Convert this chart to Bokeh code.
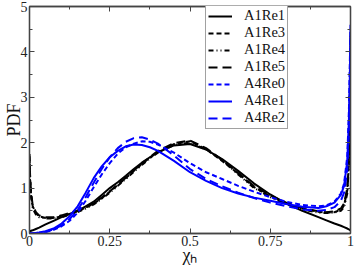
from bokeh.plotting import figure
from bokeh.models import LinearAxis, Legend, LegendItem, FixedTicker, Range1d
from bokeh.embed import file_html
from bokeh.resources import INLINE

# ---- data ----
chi = [0, 0.002, 0.005, 0.01, 0.02, 0.03, 0.05, 0.075, 0.1, 0.125, 0.15, 0.175, 0.2,
       0.225, 0.25, 0.275, 0.3, 0.325, 0.35, 0.375, 0.4, 0.45, 0.5, 0.55, 0.6, 0.65,
       0.7, 0.75, 0.8, 0.85, 0.9, 0.925, 0.95, 0.97, 0.98, 0.99, 0.995, 0.998, 1.0]

a1re1 = [0.05, 0.05, 0.06, 0.07, 0.1, 0.13, 0.2, 0.28, 0.36, 0.43, 0.5, 0.6, 0.7,
         0.85, 1.0, 1.13, 1.27, 1.42, 1.56, 1.68, 1.79, 1.94, 1.97, 1.85, 1.64, 1.38,
         1.1, 0.86, 0.66, 0.5, 0.36, 0.29, 0.22, 0.17, 0.14, 0.11, 0.09, 0.08, 0.07]
a1re3 = [1.7, 1.2, 0.85, 0.6, 0.45, 0.38, 0.34, 0.34, 0.38, 0.43, 0.49, 0.57, 0.66,
         0.78, 0.92, 1.07, 1.22, 1.38, 1.53, 1.67, 1.8, 1.97, 2.03, 1.86, 1.6, 1.32,
         1.02, 0.82, 0.66, 0.55, 0.48, 0.46, 0.47, 0.52, 0.62, 0.95, 1.6, 2.8, 4.2]
a1re4 = [1.55, 1.1, 0.8, 0.55, 0.42, 0.36, 0.33, 0.33, 0.36, 0.41, 0.47, 0.55, 0.64,
         0.76, 0.9, 1.05, 1.2, 1.36, 1.51, 1.65, 1.78, 1.95, 2.0, 1.85, 1.62, 1.3,
         1.0, 0.8, 0.64, 0.53, 0.46, 0.45, 0.46, 0.5, 0.58, 0.88, 1.5, 2.6, 4.0]
a1re5 = [1.75, 1.25, 0.9, 0.62, 0.47, 0.4, 0.36, 0.36, 0.4, 0.45, 0.51, 0.58, 0.67,
         0.79, 0.93, 1.08, 1.23, 1.39, 1.54, 1.68, 1.82, 1.99, 2.05, 1.88, 1.62, 1.33,
         1.04, 0.84, 0.68, 0.56, 0.49, 0.47, 0.49, 0.55, 0.66, 1.0, 1.7, 3.0, 4.4]
a4re0 = [0.0, 0.0, 0.0, 0.0, 0.01, 0.015, 0.03, 0.08, 0.16, 0.28, 0.46, 0.72, 1.02,
         1.3, 1.55, 1.76, 1.9, 1.98, 2.03, 2.02, 1.96, 1.78, 1.55, 1.35, 1.2, 1.05,
         0.92, 0.8, 0.7, 0.63, 0.6, 0.62, 0.7, 0.88, 1.1, 1.7, 2.7, 3.8, 4.6]
a4re1 = [0.0, 0.0, 0.0, 0.0, 0.01, 0.02, 0.05, 0.11, 0.22, 0.38, 0.6, 0.9, 1.22,
         1.48, 1.68, 1.82, 1.92, 1.96, 1.95, 1.9, 1.82, 1.6, 1.35, 1.16, 1.0, 0.88,
         0.79, 0.72, 0.65, 0.59, 0.56, 0.6, 0.68, 0.85, 1.05, 1.6, 2.5, 3.5, 4.5]
a4re2 = [0.0, 0.0, 0.0, 0.0, 0.01, 0.02, 0.04, 0.09, 0.18, 0.32, 0.52, 0.8, 1.12,
         1.42, 1.68, 1.88, 2.02, 2.1, 2.12, 2.07, 1.98, 1.72, 1.42, 1.2, 1.04, 0.9,
         0.78, 0.68, 0.6, 0.53, 0.5, 0.52, 0.58, 0.72, 0.9, 1.4, 2.2, 3.2, 4.3]

series_names = ["A1Re1", "A1Re3", "A1Re4", "A1Re5", "A4Re0", "A4Re1", "A4Re2"]
series_vals = [a1re1, a1re3, a1re4, a1re5, a4re0, a4re1, a4re2]
series_color = ["black", "black", "black", "black", "#0000ff", "#0000ff", "#0000ff"]
series_dash = ["solid", "5 3", "5 3 1 3 1 3", "9 5", "5 3", "solid", "9 5"]

x_ticks = [0, 0.25, 0.5, 0.75, 1]
x_minor = [0.125, 0.375, 0.625, 0.875]
x_tick_labels = {0: "0", 0.25: "0.25", 0.5: "0.5", 0.75: "0.75", 1: "1"}
y_ticks = [0, 1, 2, 3, 4, 5]
y_minor = [0.5, 1.5, 2.5, 3.5, 4.5]

SERIF = "Liberation Serif"
AX = "#444444"

p = figure(width=354, height=267, min_border_left=26, min_border_right=4,
           min_border_top=6, min_border_bottom=34,
           x_range=Range1d(0, 1), y_range=Range1d(0, 5),
           output_backend="svg", toolbar_location=None)
p.xgrid.visible = False
p.ygrid.visible = False
p.outline_line_color = AX
p.outline_line_width = 1.3
p.background_fill_color = "white"
p.border_fill_color = "white"

xb = p.below[0]
yl = p.left[0]
top = LinearAxis()
right = LinearAxis()
p.add_layout(top, "above")
p.add_layout(right, "right")

for ax, ticks, minor, lab in [(xb, x_ticks, x_minor, True), (yl, y_ticks, y_minor, True),
                              (top, x_ticks, x_minor, False), (right, y_ticks, y_minor, False)]:
    ax.ticker = FixedTicker(ticks=ticks, minor_ticks=minor)
    ax.axis_line_color = AX
    ax.axis_line_width = 1.3
    ax.major_tick_line_color = AX
    ax.minor_tick_line_color = AX
    ax.major_tick_in = 5
    ax.major_tick_out = 0
    ax.minor_tick_in = 3
    ax.minor_tick_out = 0
    if lab:
        ax.major_label_text_font = SERIF
        ax.major_label_text_font_size = "14px"
        ax.major_label_text_color = "#222222"
        ax.major_label_standoff = 2
    else:
        ax.major_label_text_font_size = "0px"
        ax.major_label_standoff = 0
        ax.major_label_text_color = None

xb.major_label_overrides = x_tick_labels

xb.axis_label = "χₕ"
yl.axis_label = "PDF"
for ax in (xb, yl):
    ax.axis_label_text_font = SERIF
    ax.axis_label_text_font_size = "18px"
    ax.axis_label_text_font_style = "normal"
    ax.axis_label_text_color = "#111111"
    ax.axis_label_text_line_height = 0.8
xb.axis_label_standoff = -4
yl.axis_label_standoff = -6

items = []
for name, vals, col, dash in zip(series_names, series_vals, series_color, series_dash):
    r = p.line(chi, vals, line_color=col, line_width=2, line_dash=dash)
    items.append(LegendItem(label=name, renderers=[r]))

legend = Legend(items=items, location=(176, 104))
legend.label_text_font = SERIF
legend.label_text_font_size = "14.5px"
legend.label_text_line_height = 1.0
legend.label_text_color = "#111111"
legend.label_height = 14
legend.glyph_height = 14
legend.glyph_width = 24
legend.label_standoff = 12
legend.spacing = 0
legend.padding = 2
legend.margin = 0
legend.border_line_color = AX
legend.border_line_width = 1.2
legend.background_fill_alpha = 1
p.add_layout(legend, "center")

open("out.html", "w").write(file_html(p, INLINE))
